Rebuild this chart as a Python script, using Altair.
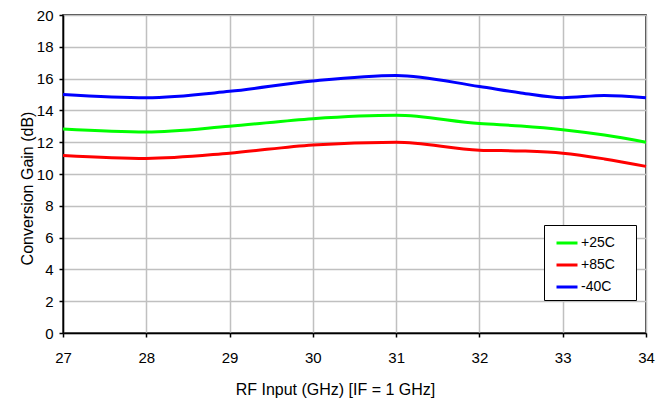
import altair as alt
import pandas as pd

freq = [27, 28, 29, 30, 31, 32, 32.5, 33, 33.5, 34]
gain_25 = [12.83, 12.64, 13.0, 13.48, 13.69, 13.17, 13.02, 12.79, 12.45, 12.0]
gain_85 = [11.17, 10.98, 11.31, 11.83, 12.0, 11.5, 11.45, 11.31, 10.95, 10.48]
gain_m40 = [15.0, 14.8, 15.2, 15.85, 16.2, 15.5, 15.1, 14.8, 14.94, 14.8]
series = ["+25C", "+85C", "-40C"]
colors = ["#00ff00", "#ff0000", "#0000ff"]

rows = []
for name, vals in zip(series, [gain_25, gain_85, gain_m40]):
    for f, v in zip(freq, vals):
        rows.append({"freq": f, "gain": v, "series": name})
df = pd.DataFrame(rows)

font = "Liberation Sans"

chart = alt.Chart(df).mark_line(interpolate="monotone", strokeWidth=3).encode(
    x=alt.X("freq:Q", scale=alt.Scale(domain=[27, 34], nice=False, zero=False),
            axis=alt.Axis(title="RF Input (GHz) [IF = 1 GHz]", values=[27, 28, 29, 30, 31, 32, 33, 34],
                          format="d", labelFontSize=15, titleFontSize=16, titleFontWeight="normal",
                          labelFont=font, titleFont=font, labelColor="black", titleColor="black",
                          domainColor="black", domainWidth=1.5, tickColor="black", tickSize=4,
                          tickWidth=1.5, gridColor="#c0c0c0", gridWidth=1.5, labelPadding=13,
                          labelFlush=False, titlePadding=16, titleX=272)),
    y=alt.Y("gain:Q", scale=alt.Scale(domain=[0, 20], nice=False),
            axis=alt.Axis(title="Conversion Gain (dB)", values=list(range(0, 21, 2)),
                          labelFontSize=15, titleFontSize=16, titleFontWeight="normal",
                          labelFont=font, titleFont=font, labelColor="black", titleColor="black",
                          domainColor="black", domainWidth=1.5, tickColor="black", tickSize=4,
                          tickWidth=1.5, gridColor="#c0c0c0", gridWidth=1.5, labelPadding=6,
                          labelFlush=False, titlePadding=1, titleY=173)),
    color=alt.Color("series:N", scale=alt.Scale(domain=series, range=colors),
                    legend=alt.Legend(title="ii", titleOrient="right", titleColor="white",
                                      titleFontSize=8, titlePadding=10,
                                      orient="none", legendX=481, legendY=210,
                                      symbolType="stroke", symbolStrokeWidth=3, symbolSize=441,
                                      symbolOffset=5,
                                      labelFont=font, labelFontSize=14, labelColor="black",
                                      strokeColor="black", fillColor="white", padding=6,
                                      rowPadding=3, labelOffset=2)),
).properties(
    width=583, height=318,
    autosize=alt.AutoSizeParams(type="none"),
    padding={"left": 55, "top": 7, "right": 10, "bottom": 67},
).configure_view(stroke="black", strokeWidth=1.5)

chart.save("out.html", embed_options={"renderer": "svg", "actions": False})
